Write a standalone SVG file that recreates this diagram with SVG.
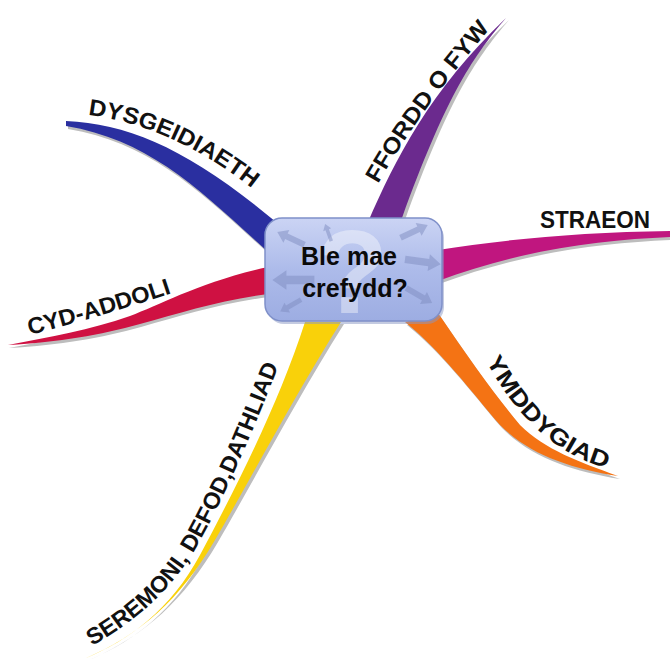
<svg xmlns="http://www.w3.org/2000/svg" xmlns:xlink="http://www.w3.org/1999/xlink" width="670" height="659" viewBox="0 0 670 659">
<style>
.lbl{font-family:"Liberation Sans",Arial,sans-serif;font-weight:bold;font-size:23px;fill:#111}
.ctr{font-family:"Liberation Sans",Arial,sans-serif;font-weight:bold;font-size:25px;fill:#0a0a0a}
.shadow{fill:#bdbdbd}
.arr{fill:#7d8cbf;opacity:0.5}
</style>
<defs>
<linearGradient id="nodeGrad" x1="0" y1="0" x2="0" y2="1">
<stop offset="0" stop-color="#cbd4f4"/>
<stop offset="0.5" stop-color="#adbbea"/>
<stop offset="1" stop-color="#9dade2"/>
</linearGradient>
<path id="arrow" d="M -16 -3 L 4 -3 L 4 -7 L 14 0 L 4 7 L 4 3 L -16 3 Z"/>
<path id="pDys" d="M 88 115 C 140 121, 200 146, 258 193"/>
<path id="pFfo" d="M 378 184 C 406 135, 441 85, 495 23"/>
<path id="pCyd" d="M 30 335 Q 100 317 178 291"/>
<path id="pYmd" d="M 486 361 C 511 405, 544 453, 616 471"/>
<path id="pSer" d="M 92 646 C 140 619, 175 586, 200 541 S 256 426, 286 346"/>
</defs>
<g id="connectors">
<g id="branch-dysgeidiaeth">
<path class="shadow" transform="translate(2,3)" d="M 66 121 C 130 124, 190 150, 276 222 L 268 252 C 200 190, 150 140, 66 126 Z"/>
<path fill="#2a2fa0" d="M 66 121 C 130 124, 190 150, 276 222 L 268 252 C 200 190, 150 140, 66 126 Z"/>
</g>
<g id="branch-ffordd">
<path class="shadow" transform="translate(3,2)" d="M 368 222 C 395 160, 430 90, 506 18 C 470 60, 445 100, 402 218 Z"/>
<path fill="#6b2a8e" d="M 368 222 C 395 160, 430 90, 506 18 C 470 60, 445 100, 402 218 Z"/>
</g>
<g id="branch-straeon">
<path class="shadow" transform="translate(1,3)" d="M 438 250 C 500 240, 580 232, 670 231 L 670 237 C 600 240, 520 250, 438 281 Z"/>
<path fill="#c0167f" d="M 438 250 C 500 240, 580 232, 670 231 L 670 237 C 600 240, 520 250, 438 281 Z"/>
</g>
<g id="branch-cyd">
<path class="shadow" transform="translate(1,3)" d="M 268 267 C 200 282, 160 305, 130 316 C 90 330, 50 337, 8 345 C 60 342, 100 335, 140 324 C 180 313, 220 300, 268 294 Z"/>
<path fill="#cf1142" d="M 268 267 C 200 282, 160 305, 130 316 C 90 330, 50 337, 8 345 C 60 342, 100 335, 140 324 C 180 313, 220 300, 268 294 Z"/>
</g>
<g id="branch-ymddygiad">
<path class="shadow" transform="translate(2,3)" d="M 405 322 C 440 350, 470 390, 500 425 C 530 455, 570 468, 618 476 C 580 462, 545 450, 520 425 C 495 395, 470 360, 438 313 Z"/>
<path fill="#f47314" d="M 405 322 C 440 350, 470 390, 500 425 C 530 455, 570 468, 618 476 C 580 462, 545 450, 520 425 C 495 395, 470 360, 438 313 Z"/>
</g>
<g id="branch-seremoni">
<path class="shadow" transform="translate(3,2)" d="M 305 322 C 280 400, 240 480, 200 555 C 170 610, 130 640, 84 659 C 140 635, 180 600, 215 540 C 250 480, 292 400, 341 322 Z"/>
<path fill="#f9d10a" d="M 305 322 C 280 400, 240 480, 200 555 C 170 610, 130 640, 84 659 C 140 635, 180 600, 215 540 C 250 480, 292 400, 341 322 Z"/>
</g>
</g>
<g id="labels">
<text class="lbl"><textPath xlink:href="#pDys" href="#pDys" textLength="182" lengthAdjust="spacingAndGlyphs">DYSGEIDIAETH</textPath></text>
<text class="lbl"><textPath xlink:href="#pFfo" href="#pFfo" textLength="192" lengthAdjust="spacingAndGlyphs">FFORDD O FYW</textPath></text>
<text class="lbl" x="540" y="228" textLength="110" lengthAdjust="spacingAndGlyphs">STRAEON</text>
<text class="lbl"><textPath xlink:href="#pCyd" href="#pCyd" textLength="148" lengthAdjust="spacingAndGlyphs">CYD-ADDOLI</textPath></text>
<text class="lbl"><textPath xlink:href="#pYmd" href="#pYmd" textLength="166" lengthAdjust="spacingAndGlyphs">YMDDYGIAD</textPath></text>
<text class="lbl"><textPath xlink:href="#pSer" href="#pSer" textLength="345" lengthAdjust="spacingAndGlyphs">SEREMONI, DEFOD,DATHLIAD</textPath></text>
</g>
<g id="center-node">
<rect x="267" y="221" width="177" height="103" rx="17" fill="#8a98c4" opacity="0.5"/>
<rect x="265" y="218" width="177" height="103" rx="17" fill="url(#nodeGrad)" stroke="#7f90c9" stroke-width="1.5"/>
<text x="352" y="313" text-anchor="middle" font-family="Liberation Sans, Arial, sans-serif" font-weight="bold" font-size="118" fill="#ffffff" opacity="0.4">?</text>
<use href="#arrow" xlink:href="#arrow" class="arr" transform="translate(292,280) rotate(180) scale(1.4)"/>
<use href="#arrow" xlink:href="#arrow" class="arr" transform="translate(290,238) rotate(205)"/>
<use href="#arrow" xlink:href="#arrow" class="arr" transform="translate(415,231) rotate(-25)"/>
<use href="#arrow" xlink:href="#arrow" class="arr" transform="translate(424,262) rotate(8) scale(1.2)"/>
<use href="#arrow" xlink:href="#arrow" class="arr" transform="translate(420,296) rotate(30)"/>
<use href="#arrow" xlink:href="#arrow" class="arr" transform="translate(290,306) rotate(150) scale(0.8)"/>
<use href="#arrow" xlink:href="#arrow" class="arr" transform="translate(328,232) rotate(-110) scale(0.6)"/>
<text class="ctr" x="349" y="265" text-anchor="middle">Ble mae</text>
<text class="ctr" x="355" y="297" text-anchor="middle">crefydd?</text>
</g>
</svg>
